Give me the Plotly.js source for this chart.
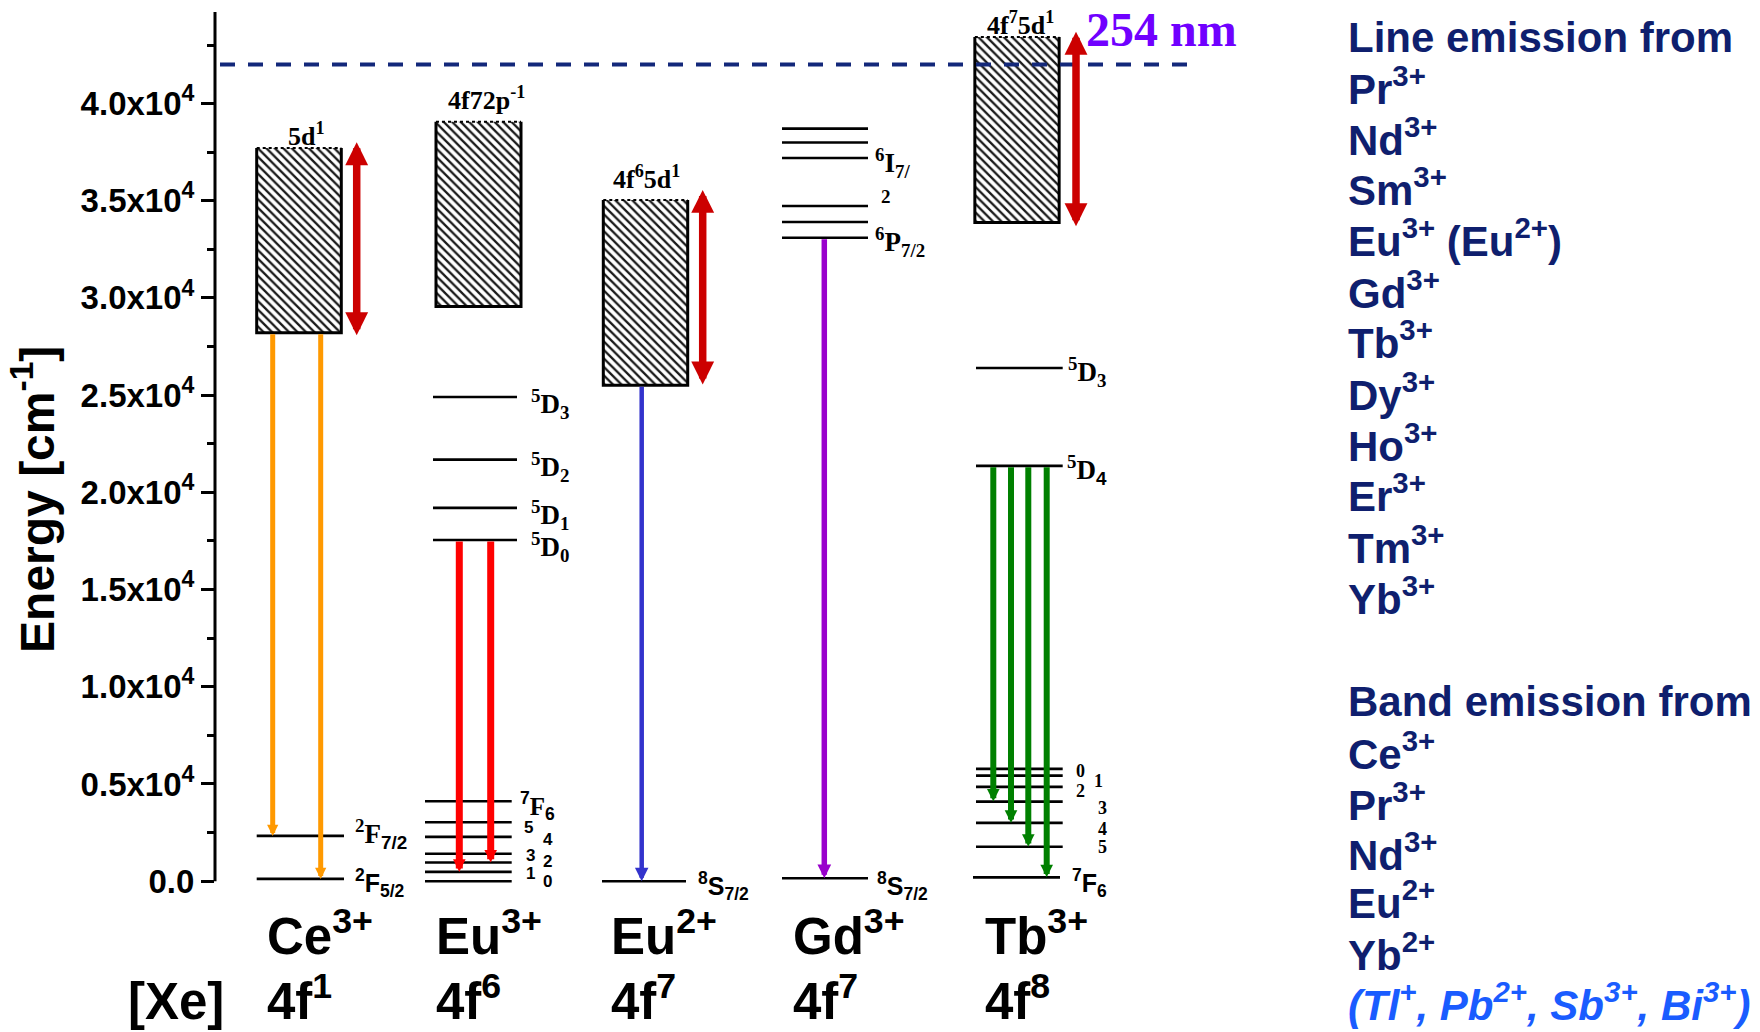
<!DOCTYPE html>
<html>
<head>
<meta charset="utf-8">
<script src="https://cdn.plot.ly/plotly-3.0.1.min.js"></script>
<style>
  html, body { margin: 0; padding: 0; background: #fff; }
  #chart { width: 1760px; height: 1032px; }
</style>
</head>
<body>
<div id="chart"></div>
<script>
// ---------- data (energies in cm^-1) ----------
const ionNames   = ['Ce<sup>3+</sup>', 'Eu<sup>3+</sup>', 'Eu<sup>2+</sup>', 'Gd<sup>3+</sup>', 'Tb<sup>3+</sup>'];
const ionConfigs = ['4f<sup>1</sup>', '4f<sup>6</sup>', '4f<sup>7</sup>', '4f<sup>7</sup>', '4f<sup>8</sup>'];

// 5d / charge-transfer bands (Ce3+, Eu3+, Eu2+, Tb3+)
const bandNames = ['5d<sup>1</sup>', '4f72p<sup>-1</sup>', '4f<sup>6</sup>5d<sup>1</sup>', '4f<sup>7</sup>5d<sup>1</sup>'];
const bandLow   = [28200, 29550, 25500, 33870];
const bandHigh  = [37700, 39050, 35030, 43420];

// excitation ranges (double arrows) for Ce3+, Eu2+, Tb3+
const excLow  = [28000, 25470, 33610];
const excHigh = [38000, 35550, 43680];

// 4f levels
const ceLevels   = [2330, 120];                              // 2F7/2, 2F5/2
const eu3DLevels = [17550, 19200, 21680, 24900];             // 5D0 .. 5D3
const eu3FLevels = [0, 480, 960, 1410, 2280, 3030, 4110];    // 7F0 .. 7F6
const eu2Levels  = [0];                                      // 8S7/2
const gdLevels   = [150, 33090, 33900, 34720, 37190, 37990, 38700];
const tbDLevels  = [21360, 26390];                           // 5D4, 5D3
const tbFLevels  = [200, 1770, 3000, 4095, 4850, 5430, 5775]; // 7F6 .. 7F0

// UV lamp line
const lampLabel = '254 nm';
const lampLevel = 42000;

// axis ticks
const tickVals  = [0, 5000, 10000, 15000, 20000, 25000, 30000, 35000, 40000];
const tickText  = ['0.0', '0.5x10<sup>4</sup>', '1.0x10<sup>4</sup>', '1.5x10<sup>4</sup>', '2.0x10<sup>4</sup>',
                   '2.5x10<sup>4</sup>', '3.0x10<sup>4</sup>', '3.5x10<sup>4</sup>', '4.0x10<sup>4</sup>'];
const minorVals = [2500, 7500, 12500, 17500, 22500, 27500, 32500, 37500, 43000];

// side lists
const lineEmitters = ['Pr<sup>3+</sup>', 'Nd<sup>3+</sup>', 'Sm<sup>3+</sup>', 'Eu<sup>3+</sup> (Eu<sup>2+</sup>)', 'Gd<sup>3+</sup>',
                      'Tb<sup>3+</sup>', 'Dy<sup>3+</sup>', 'Ho<sup>3+</sup>', 'Er<sup>3+</sup>', 'Tm<sup>3+</sup>', 'Yb<sup>3+</sup>'];
const bandEmitters = ['Ce<sup>3+</sup>', 'Pr<sup>3+</sup>', 'Nd<sup>3+</sup>', 'Eu<sup>2+</sup>', 'Yb<sup>2+</sup>'];
const bandEmittersSp = '(Tl<sup>+</sup>, Pb<sup>2+</sup>, Sb<sup>3+</sup>, Bi<sup>3+</sup>)';

// ---------- layout geometry (pixels) ----------
const G = { left: 215, top: 12, w: 1000, h: 877.5 };
const pY = p => (G.top + G.h - p) / G.h;      // pixel row -> paper y
const pX = p => (p - G.left) / G.w;           // pixel column -> paper x

const SANS  = 'Liberation Sans, Arial, sans-serif';
const SERIF = 'Liberation Serif, Times New Roman, serif';
const sansSpan = s => '<span style="font-family:Liberation Sans, Arial">' + s + '</span>';

// column geometry in x units (px right of the energy axis)
const bandX = [84, 263.5, 430.5, 802];
const bandW = [84.6, 85, 84.4, 84.3];
const excX  = [141.7, 487.7, 861];
const ionLabelX = [51, 220, 394.5, 577.4, 769.4];

const traces = [];
const annotations = [];

// hatched bands
traces.push({
  type: 'bar', x: bandX, width: bandW, base: bandLow,
  y: bandHigh.map((v, i) => v - bandLow[i]),
  marker: { color: '#fff', line: { width: 0 },
            pattern: { shape: '\\', fgcolor: '#1a1a1a', bgcolor: '#fff', size: 6, solidity: 0.38 } },
  hoverinfo: 'skip'
});
// band frames: solid sides and bottom, dotted top
bandX.forEach((c, i) => {
  const x0 = c - bandW[i] / 2, x1 = c + bandW[i] / 2;
  traces.push({ type: 'scatter', mode: 'lines', x: [x0, x0, x1, x1], y: [bandHigh[i], bandLow[i], bandLow[i], bandHigh[i]],
                line: { color: '#000', width: 3 }, hoverinfo: 'skip' });
  traces.push({ type: 'scatter', mode: 'lines', x: [x0, x1], y: [bandHigh[i], bandHigh[i]],
                line: { color: '#000', width: 2, dash: 'dot' }, hoverinfo: 'skip' });
});

// discrete levels
function levelTrace(levels, x0, x1) {
  const xs = [], ys = [];
  levels.forEach(e => { xs.push(x0, x1, null); ys.push(e, e, null); });
  return { type: 'scatter', mode: 'lines', x: xs, y: ys, line: { color: '#000', width: 2.6 }, hoverinfo: 'skip' };
}
traces.push(levelTrace(ceLevels, 41.7, 129));
traces.push(levelTrace(eu3FLevels, 210, 296.7));
traces.push(levelTrace(eu3DLevels, 218, 302));
traces.push(levelTrace(eu2Levels, 387, 471));
traces.push(levelTrace(gdLevels, 567, 653));
traces.push(levelTrace(tbDLevels, 761, 847.7));
traces.push(levelTrace(tbFLevels.slice(1), 761, 847.7));
traces.push(levelTrace(tbFLevels.slice(0, 1), 758, 845));

// arrows
function arrow(x, from, to, color, width, size, both) {
  return { xref: 'x', yref: 'y', axref: 'x', ayref: 'y', x: x, y: to, ax: x, ay: from,
           text: '', font: { size: 1 }, showarrow: true, arrowhead: 2, arrowsize: size, arrowwidth: width,
           arrowcolor: color, arrowside: both ? 'end+start' : 'end', startarrowhead: 2, startarrowsize: size,
           standoff: 0, startstandoff: 0 };
}
// excitation bands
excX.forEach((x, i) => annotations.push(arrow(x, excLow[i], excHigh[i], '#cc0000', 7.5, 0.61, true)));
// Ce3+ 5d -> 2F
[57.7, 105.7].forEach((x, i) => annotations.push(arrow(x, bandLow[0], ceLevels[i], '#ff9900', 5, 0.45, false)));
// Eu3+ 5D0 -> 7F1, 7F2
[244.3, 275.7].forEach((x, i) => annotations.push(arrow(x, eu3DLevels[0], eu3FLevels[i + 1], '#ff0000', 7, 0.36, false)));
// Eu2+ 4f65d -> 8S7/2
annotations.push(arrow(426.7, bandLow[2], eu2Levels[0], '#3333cc', 4.5, 0.6, false));
// Gd3+ 6P7/2 -> 8S7/2
annotations.push(arrow(609.3, gdLevels[1], gdLevels[0], '#9900cc', 5.5, 0.5, false));
// Tb3+ 5D4 -> 7F3..7F6
[778.3, 796, 813.3, 831.7].forEach((x, i) =>
  annotations.push(arrow(x, tbDLevels[0], tbFLevels[3 - i], '#008000', 6, 0.42, false)));

// text helpers
const serif = s => ({ family: SERIF, size: s, color: '#000', weight: 700 });
const sans  = s => ({ family: SANS,  size: s, color: '#000', weight: 700 });
function label(text, x, y, o) {
  o = o || {};
  return Object.assign({ xref: 'x', yref: 'y', x: x, y: y, text: text, showarrow: false,
    xanchor: 'left', yanchor: 'middle', borderpad: 0, font: serif(27) }, o);
}
function paperText(text, xPx, yPx, font, o) {
  return Object.assign({ xref: 'paper', yref: 'paper', x: pX(xPx), y: pY(yPx), text: text, showarrow: false,
    xanchor: 'left', yanchor: 'middle', borderpad: 0, font: font }, o || {});
}

// band names
const bandNameX = [91.7, 271.7, 431, 805];
const bandNameY = [135, 98.3, 177.3, 23.3];
bandNames.forEach((t, i) => annotations.push({ xref: 'x', yref: 'paper', x: bandNameX[i], y: pY(bandNameY[i]),
  text: t, showarrow: false, xanchor: 'center', yanchor: 'middle', borderpad: 0, font: serif(26) }));

// level labels
annotations.push(label('<sup>2</sup>F' + sansSpan('<sub>7/2</sub>'), 139, ceLevels[0], { yshift: 2 }));
annotations.push(label('<sup>2</sup>F<sub>5/2</sub>', 139, ceLevels[1], { yshift: -4, font: sans(25) }));
['<sup>5</sup>D<sub>0</sub>', '<sup>5</sup>D<sub>1</sub>', '<sup>5</sup>D<sub>2</sub>', '<sup>5</sup>D<sub>3</sub>']
  .forEach((t, i) => annotations.push(label(t, 315, eu3DLevels[i], { yshift: -7 })));
annotations.push(label(sansSpan('<sup>7</sup>') + 'F' + sansSpan('<sub>6</sub>'), 304, eu3FLevels[6],
  { yshift: -5, font: serif(25) }));
const euDigitX = [326.7, 310, 326.7, 310, 326.7, 308];
const euDigitY = [-30, 396, 997, 1320, 2143, 2760];
['0', '1', '2', '3', '4', '5'].forEach((t, i) =>
  annotations.push(label(t, euDigitX[i], euDigitY[i], { font: sans(17) })));
annotations.push(label('<sup>8</sup>S<sub>7/2</sub>', 482, eu2Levels[0], { yshift: -5, font: sans(25) }));
annotations.push(label('<sup>8</sup>S<sub>7/2</sub>', 660.6, gdLevels[0], { yshift: -8, font: sans(25) }));
annotations.push(label('<sup>6</sup>I<sub>7/</sub>', 659, gdLevels[4], { yshift: -5 }));
annotations.push(label('2', 665, 35200, { font: serif(19) }));
annotations.push(label('<sup>6</sup>P<sub>7/2</sub>', 659, gdLevels[1], { yshift: -4 }));
annotations.push(label('<sup>5</sup>D<sub>3</sub>', 852, tbDLevels[1], { yshift: -4 }));
annotations.push(label('<sup>5</sup>D' + sansSpan('<sub>4</sub>'), 851, tbDLevels[0], { yshift: -4 }));
annotations.push(label('<sup>7</sup>F<sub>6</sub>', 855.7, tbFLevels[0], { yshift: -6, font: sans(25) }));
const tbDigitX = [860, 878, 860, 882, 882, 882];
const tbDigitY = [5652, 5139, 4625, 3787, 2708, 1747];
['0', '1', '2', '3', '4', '5'].forEach((t, i) =>
  annotations.push(label(t, tbDigitX[i], tbDigitY[i], { font: serif(18) })));

// lamp label
annotations.push({ xref: 'x', yref: 'paper', x: 946.7, y: pY(30), text: lampLabel, showarrow: false,
  xanchor: 'center', yanchor: 'middle', borderpad: 0,
  font: { family: SERIF, size: 48, color: '#7000ff', weight: 700 } });

// ion names and configurations
ionNames.forEach((t, i) => annotations.push({ xref: 'x', yref: 'paper', x: ionLabelX[i], y: pY(934), text: t,
  showarrow: false, xanchor: 'left', yanchor: 'middle', borderpad: 0, font: sans(51) }));
annotations.push(paperText('[Xe]', 126.8, 1032, sans(51), { yanchor: 'bottom' }));
ionConfigs.forEach((t, i) => annotations.push({ xref: 'x', yref: 'paper', x: ionLabelX[i], y: pY(1032), text: t,
  showarrow: false, xanchor: 'left', yanchor: 'bottom', borderpad: 0, font: sans(51) }));

// axis title
annotations.push(paperText('Energy [cm<sup>-1</sup>]', 33.7, 499.5, sans(48), { textangle: -90, xanchor: 'center' }));

// emission lists on the right
const NAVY = '#0f1f6e';
const listFont = { family: SANS, size: 42, color: NAVY, weight: 700 };
const lineY = [86, 137, 187.5, 238.5, 290, 340, 392, 443, 493.5, 545, 596.5];
const bandY = [751, 802, 852.5, 901, 952.5];
annotations.push(paperText('Line emission from', 1347, 37.5, listFont));
lineEmitters.forEach((t, i) => annotations.push(paperText(t, 1347, lineY[i], listFont)));
annotations.push(paperText('Band emission from', 1347, 702, listFont));
bandEmitters.forEach((t, i) => annotations.push(paperText(t, 1347, bandY[i], listFont)));
annotations.push(paperText('<i>' + bandEmittersSp + '</i>', 1347, 1031,
  { family: SANS, size: 42, color: '#1a5cff', weight: 700, style: 'italic' }, { yanchor: 'bottom' }));

const shapes = [
  // energy axis line
  { type: 'line', xref: 'paper', yref: 'y', x0: 0, x1: 0, y0: 0, y1: 44700, line: { color: '#000', width: 3 } },
  // 254 nm line
  { type: 'line', xref: 'x', yref: 'y', x0: 5, x1: 973, y0: lampLevel, y1: lampLevel, layer: 'above',
    line: { color: '#13287a', width: 4, dash: '15px,13px' } }
];

const layout = {
  width: 1760, height: 1032,
  margin: { l: G.left, r: 1760 - G.left - G.w, t: G.top, b: 1032 - G.top - G.h, pad: 0 },
  paper_bgcolor: '#fff', plot_bgcolor: 'rgba(0,0,0,0)',
  showlegend: false, barmode: 'overlay',
  xaxis: { range: [0, 1000], visible: false, fixedrange: true },
  yaxis: {
    range: [-400, 44700], showgrid: false, zeroline: false, showline: false, fixedrange: true,
    tickmode: 'array', tickvals: tickVals, ticktext: tickText,
    ticks: 'outside', ticklen: 13, tickwidth: 3, tickcolor: '#000',
    tickfont: { family: SANS, size: 33, color: '#000', weight: 700 },
    minor: { tickmode: 'array', tickvals: minorVals, ticks: 'outside', ticklen: 7, tickwidth: 3, tickcolor: '#000' }
  },
  shapes: shapes,
  annotations: annotations
};

Plotly.newPlot('chart', traces, layout, { staticPlot: true, displayModeBar: false });
</script>
</body>
</html>
